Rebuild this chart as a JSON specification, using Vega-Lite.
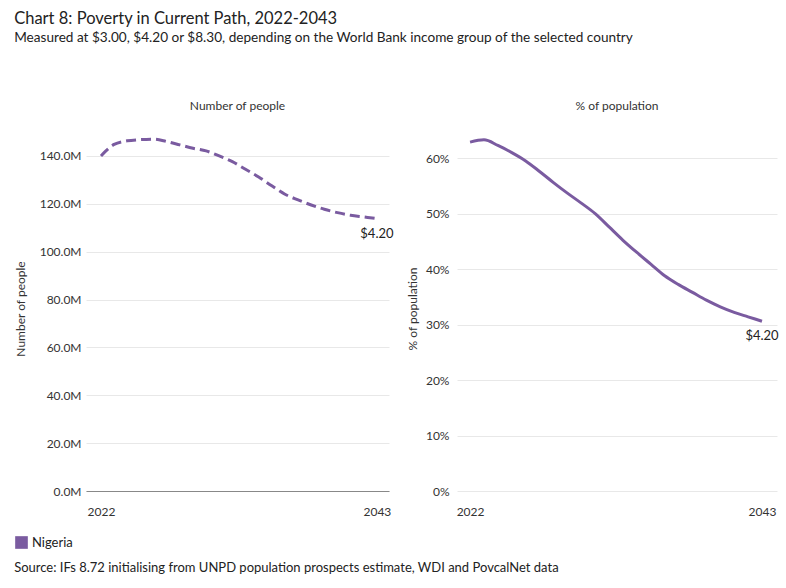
{
  "$schema": "https://vega.github.io/schema/vega-lite/v6.json",
  "padding": {"left": 14, "top": 10, "right": 5, "bottom": 5},
  "background": "white",
  "config": {
    "font": "Lato",
    "view": {"stroke": null},
    "concat": {"spacing": 12},
    "axis": {"labelFont": "Lato", "titleFont": "Lato", "labelFontSize": 12, "titleFontSize": 12, "labelColor": "#333333", "titleColor": "#333333", "titleFontWeight": "normal", "gridColor": "#e8e8e8", "ticks": false, "domain": false},
    "title": {"font": "Lato", "fontWeight": "normal", "color": "#222222"},
    "legend": {"labelFont": "Lato", "labelFontSize": 13, "labelColor": "#222222", "symbolType": "square", "symbolSize": 160, "symbolStrokeWidth": 0, "symbolFillColor": "#7a5ba0", "orient": "none", "legendX": -71, "legendY": 410, "title": null}
  },
  "title": {
    "text": "Chart 8: Poverty in Current Path, 2022-2043",
    "subtitle": "Measured at $3.00, $4.20 or $8.30, depending on the World Bank income group of the selected country",
    "anchor": "start",
    "fontSize": 16.5,
    "subtitleFontSize": 13.6,
    "subtitleColor": "#222222",
    "subtitlePadding": 4,
    "offset": 55
  },
  "resolve": {"scale": {"color": "independent"}},
  "datasets": {
    "poverty": [
      {"year": 2022, "people": 140.0, "share": 0.629, "country": "Nigeria", "line": "$4.20"},
      {"year": 2023, "people": 144.8, "share": 0.633, "country": "Nigeria", "line": "$4.20"},
      {"year": 2024, "people": 146.3, "share": 0.623, "country": "Nigeria", "line": "$4.20"},
      {"year": 2025, "people": 146.8, "share": 0.610, "country": "Nigeria", "line": "$4.20"},
      {"year": 2026, "people": 147.0, "share": 0.595, "country": "Nigeria", "line": "$4.20"},
      {"year": 2027, "people": 146.0, "share": 0.576, "country": "Nigeria", "line": "$4.20"},
      {"year": 2028, "people": 144.6, "share": 0.556, "country": "Nigeria", "line": "$4.20"},
      {"year": 2029, "people": 143.2, "share": 0.537, "country": "Nigeria", "line": "$4.20"},
      {"year": 2030, "people": 142.1, "share": 0.519, "country": "Nigeria", "line": "$4.20"},
      {"year": 2031, "people": 140.0, "share": 0.500, "country": "Nigeria", "line": "$4.20"},
      {"year": 2032, "people": 137.6, "share": 0.476, "country": "Nigeria", "line": "$4.20"},
      {"year": 2033, "people": 134.4, "share": 0.452, "country": "Nigeria", "line": "$4.20"},
      {"year": 2034, "people": 131.2, "share": 0.430, "country": "Nigeria", "line": "$4.20"},
      {"year": 2035, "people": 127.5, "share": 0.409, "country": "Nigeria", "line": "$4.20"},
      {"year": 2036, "people": 124.0, "share": 0.388, "country": "Nigeria", "line": "$4.20"},
      {"year": 2037, "people": 121.6, "share": 0.372, "country": "Nigeria", "line": "$4.20"},
      {"year": 2038, "people": 119.5, "share": 0.358, "country": "Nigeria", "line": "$4.20"},
      {"year": 2039, "people": 117.7, "share": 0.344, "country": "Nigeria", "line": "$4.20"},
      {"year": 2040, "people": 116.3, "share": 0.332, "country": "Nigeria", "line": "$4.20"},
      {"year": 2041, "people": 115.2, "share": 0.322, "country": "Nigeria", "line": "$4.20"},
      {"year": 2042, "people": 114.5, "share": 0.314, "country": "Nigeria", "line": "$4.20"},
      {"year": 2043, "people": 113.8, "share": 0.306, "country": "Nigeria", "line": "$4.20"}
    ]
  },
  "vconcat": [
    {
      "title": {"text": "Source: IFs 8.72 initialising from UNPD population prospects estimate, WDI and PovcalNet data", "orient": "bottom", "anchor": "start", "fontSize": 13, "offset": 12},
      "hconcat": [
        {
          "title": {"text": "Number of people", "fontSize": 12, "color": "#333333", "offset": 13},
          "width": 303,
          "height": 365,
          "data": {"name": "poverty"},
          "encoding": {
            "x": {"field": "year", "type": "quantitative", "scale": {"domain": [2020.86, 2043.92], "nice": false}, "axis": {"values": [2022, 2043], "format": "d", "title": null, "grid": false, "domain": true, "domainColor": "#888888", "labelPadding": 15, "labelFontSize": 12}},
            "y": {"field": "people", "type": "quantitative", "scale": {"domain": [0, 152.5], "nice": false}, "axis": {"values": [0, 20, 40, 60, 80, 100, 120, 140], "labelExpr": "format(datum.value, '.1f') + 'M'", "title": "Number of people", "labelPadding": 5, "titlePadding": 12}}
          },
          "layer": [
            {
              "mark": {"type": "line", "interpolate": "monotone", "strokeWidth": 3, "strokeDash": [10, 5]},
              "encoding": {"color": {"field": "country", "type": "nominal", "scale": {"range": ["#7a5ba0"]}}}
            },
            {
              "transform": [{"filter": "datum.year == 2043"}],
              "mark": {"type": "text", "dy": 15, "fontSize": 13, "color": "#222222", "align": "center"},
              "encoding": {"text": {"field": "line"}}
            }
          ]
        },
        {
          "title": {"text": "% of population", "fontSize": 12, "color": "#333333", "offset": 13},
          "width": 320,
          "height": 365,
          "data": {"name": "poverty"},
          "encoding": {
            "x": {"field": "year", "type": "quantitative", "scale": {"domain": [2021.06, 2044.08], "nice": false}, "axis": {"values": [2022, 2043], "format": "d", "title": null, "grid": false, "labelPadding": 15, "labelFontSize": 12}},
            "y": {"field": "share", "type": "quantitative", "scale": {"domain": [0, 0.658], "nice": false}, "axis": {"values": [0, 0.1, 0.2, 0.3, 0.4, 0.5, 0.6], "format": ".0%", "title": "% of population", "labelPadding": 8, "titlePadding": 6}}
          },
          "layer": [
            {
              "mark": {"type": "line", "interpolate": "monotone", "strokeWidth": 3, "color": "#7a5ba0"},
              "encoding": {}
            },
            {
              "transform": [{"filter": "datum.year == 2043"}],
              "mark": {"type": "text", "dy": 15, "fontSize": 13, "color": "#222222", "align": "center"},
              "encoding": {"text": {"field": "line"}}
            }
          ]
        }
      ]
    }
  ]
}
